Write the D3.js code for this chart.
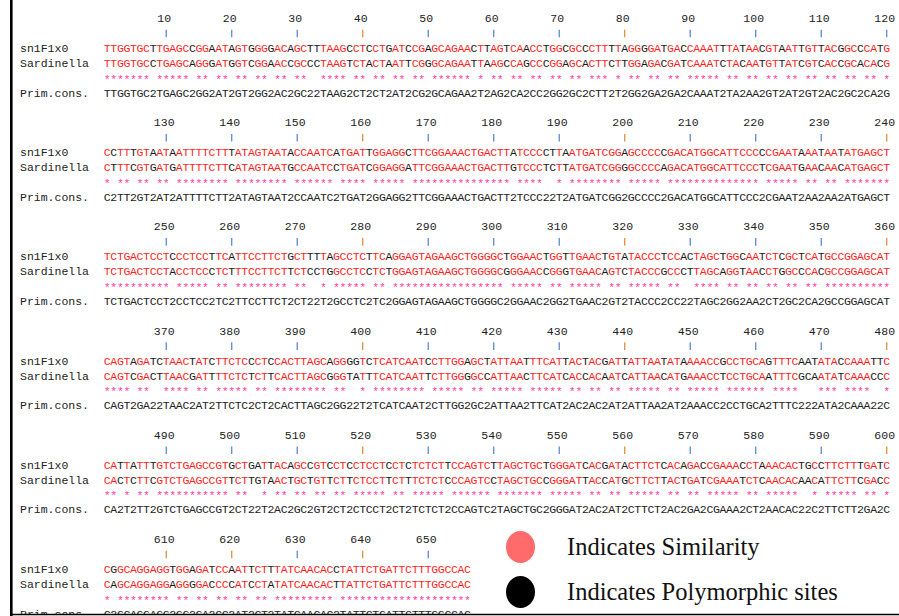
<!DOCTYPE html>
<html>
<head>
<meta charset="utf-8">
<script src="https://cdn.jsdelivr.net/npm/d3@7"></script>
<style>
  html, body { margin: 0; padding: 0; background: #fff; }
  svg { display: block; }
</style>
</head>
<body>
<div id="chart"></div>
<script>
// Pairwise alignment: sn1F1x0 vs Sardinella, 120 columns per block
const seqNames = ['sn1F1x0', 'Sardinella'];
const consensusLabel = 'Prim.cons.';

const sn1Blocks = [
  'TTGGTGCTTGAGCCGGAATAGTGGGGACAGCTTTAAGCCTCCTGATCCGAGCAGAACTTAGTCAACCTGGCGCCCTTTTAGGGGATGACCAAATTTATAACGTAATTGTTACGGCCCATG',
  'CCTTTGTAATAATTTTCTTTATAGTAATACCAATCATGATTGGAGGCTTCGGAAACTGACTTATCCCCTTAATGATCGGAGCCCCCGACATGGCATTCCCCCGAATAAATAATATGAGCT',
  'TCTGACTCCTCCCTCCTTCATTCCTTCTGCTTTTAGCCTCTTCAGGAGTAGAAGCTGGGGCTGGAACTGGTTGAACTGTATACCCTCCACTAGCTGGCAATCTCGCTCATGCCGGAGCAT',
  'CAGTAGATCTAACTATCTTCTCCCTCCACTTAGCAGGGGTCTCATCAATCCTTGGAGCTATTAATTTCATTACTACGATTATTAATATAAAACCGCCTGCAGTTTCAATATACCAAATTC',
  'CATTATTTGTCTGAGCCGTGCTGATTACAGCCGTCCTCCTCCTCCTCTCTCTTCCAGTCTTAGCTGCTGGGATCACGATACTTCTCACAGACCGAAACCTAAACACTGCCTTCTTTGATC',
  'CGGCAGGAGGTGGAGATCCAATTCTTTATCAACACCTATTCTGATTCTTTGGCCAC'
];

const sardBlocks = [
  'TTGGTGCCTGAGCAGGGATGGTCGGAACCGCCCTAAGTCTACTAATTCGGGCAGAATTAAGCCAGCCCGGAGCACTTCTTGGAGACGATCAAATCTACAATGTTATCGTCACCGCACACG',
  'CTTTCGTGATGATTTTCTTCATAGTAATGCCAATCCTGATCGGAGGATTCGGAAACTGACTTGTCCCTCTTATGATCGGGGCCCCAGACATGGCATTCCCTCGAATGAACAACATGAGCT',
  'TCTGACTCCTACCTCCCTCTTTCCTTCTTCTCCTGGCCTCCTCTGGAGTAGAAGCTGGGGCGGGAACCGGGTGAACAGTCTACCCGCCCTTAGCAGGTAACCTGGCCCACGCCGGAGCAT',
  'CAGTCGACTTAACGATTTTCTCTCTTCACTTAGCGGGTATTTCATCAATTCTTGGGGCCATTAACTTCATCACCACAATCATTAACATGAAACCTCCTGCAATTTCGCAATATCAAACCC',
  'CACTCTTCGTCTGAGCCGTTCTTGTAACTGCTGTTCTTCTCCTTCTTTCTCTCCCAGTCCTAGCTGCCGGGATTACCATGCTTCTTACTGATCGAAATCTCAACACAACATTCTTCGACC',
  'CAGCAGGAGGAGGGGACCCCATCCTATATCAACACTTATTCTGATTCTTTGGCCAC'
];

const blockSize = 120;
const tickStep = 10;
// ticks drawn in orange instead of blue
const orangeTicks = [40, 80, 160, 200, 240, 280, 320, 360, 400, 440, 480, 520, 560, 600, 610, 620, 640];

const legendLabels = ['Indicates Similarity', 'Indicates Polymorphic sites'];

/* Layout */
const width = 899;
const height = 616;
const layout = {
  seqLeft: 104,
  seqRight: 890,
  labelX: 20,
  blockTop: 18,
  blockPitch: 104.2,
  row: { number: 0, tickTop: 11.7, tickBottom: 19.3, seq1: 30, seq2: 45, stars: 58, cons: 74.5 }
};

const colors = {
  match: '#ff1f1f',
  mismatch: '#1a1a1a',
  star: '#ff3aa0',
  text: '#222',
  tickBlue: '#4f7fd0',
  tickOrange: '#e0862a'
};

const monoFont = '"Liberation Mono", "Courier New", monospace';
const fontSize = 11.5;

const svg = d3.select('#chart')
  .append('svg')
  .attr('width', width)
  .attr('height', height);

svg.append('defs')
  .append('clipPath')
  .attr('id', 'plot-clip')
  .append('rect')
  .attr('x', 0).attr('y', 0)
  .attr('width', width).attr('height', 614);

const x = d3.scaleBand()
  .domain(d3.range(blockSize))
  .range([layout.seqLeft, layout.seqRight])
  .paddingInner(0);
const cx = (i) => x(i) + x.bandwidth() / 2;

const blockY = d3.scaleLinear()
  .domain([0, 1])
  .range([layout.blockTop, layout.blockTop + layout.blockPitch]);

const content = svg.append('g').attr('clip-path', 'url(#plot-clip)');

sn1Blocks.forEach((s1, b) => {
  const s2 = sardBlocks[b];
  const g = content.append('g')
    .attr('class', 'block')
    .attr('transform', `translate(0, ${blockY(b)})`);

  const cols = d3.range(s1.length).map((i) => ({
    i,
    pos: b * blockSize + i + 1,
    a: s1[i],
    c: s2[i],
    same: s1[i] === s2[i]
  }));

  /* ruler numbers + tick marks */
  const ticks = cols.filter((d) => d.pos % tickStep === 0);

  g.selectAll('text.num')
    .data(ticks)
    .join('text')
    .attr('class', 'num')
    .attr('x', (d) => cx(d.i) - 2)
    .attr('y', layout.row.number)
    .attr('dy', '0.35em')
    .attr('text-anchor', 'middle')
    .attr('font-family', monoFont)
    .attr('font-size', fontSize)
    .attr('fill', colors.text)
    .text((d) => d.pos);

  g.selectAll('line.tick')
    .data(ticks)
    .join('line')
    .attr('class', 'tick')
    .attr('x1', (d) => cx(d.i))
    .attr('x2', (d) => cx(d.i))
    .attr('y1', layout.row.tickTop)
    .attr('y2', layout.row.tickBottom)
    .attr('stroke', (d) => (orangeTicks.includes(d.pos) ? colors.tickOrange : colors.tickBlue))
    .attr('stroke-width', 1.2);

  /* row labels */
  [[seqNames[0], layout.row.seq1], [seqNames[1], layout.row.seq2], [consensusLabel, layout.row.cons]]
    .forEach(([label, y]) => {
      g.append('text')
        .attr('x', layout.labelX)
        .attr('y', y)
        .attr('dy', '0.35em')
        .attr('font-family', monoFont)
        .attr('font-size', fontSize)
        .attr('fill', colors.text)
        .text(label);
    });

  /* sequences: red where both agree, black at polymorphic sites */
  [['a', layout.row.seq1], ['c', layout.row.seq2]].forEach(([key, y]) => {
    g.selectAll(`text.base-${key}`)
      .data(cols)
      .join('text')
      .attr('class', `base-${key}`)
      .attr('x', (d) => cx(d.i))
      .attr('y', y)
      .attr('dy', '0.35em')
      .attr('text-anchor', 'middle')
      .attr('font-family', monoFont)
      .attr('font-size', fontSize)
      .attr('fill', (d) => (d.same ? colors.match : colors.mismatch))
      .text((d) => d[key]);
  });

  /* identity stars */
  g.selectAll('text.star')
    .data(cols.filter((d) => d.same))
    .join('text')
    .attr('class', 'star')
    .attr('x', (d) => cx(d.i))
    .attr('y', layout.row.stars + 6.5)
    .attr('text-anchor', 'middle')
    .attr('font-family', monoFont)
    .attr('font-size', fontSize)
    .attr('fill', colors.star)
    .text('*');

  /* consensus: shared base or '2' */
  g.selectAll('text.cons')
    .data(cols)
    .join('text')
    .attr('class', 'cons')
    .attr('x', (d) => cx(d.i))
    .attr('y', layout.row.cons)
    .attr('dy', '0.35em')
    .attr('text-anchor', 'middle')
    .attr('font-family', monoFont)
    .attr('font-size', fontSize)
    .attr('fill', colors.text)
    .text((d) => (d.same ? d.a : '2'));
});

/* Legend */
const legend = svg.append('g').attr('transform', 'translate(520.5, 547)');
const legendColors = ['#ff6b6b', '#000000'];

legend.selectAll('g.legend-item')
  .data(legendLabels)
  .join('g')
  .attr('class', 'legend-item')
  .attr('transform', (_, k) => `translate(0, ${k * 45})`)
  .each(function (label, k) {
    const item = d3.select(this);
    item.append('ellipse')
      .attr('rx', 14.5)
      .attr('ry', 16)
      .attr('fill', legendColors[k]);
    item.append('text')
      .attr('x', 46.5)
      .attr('y', 7.5)
      .attr('font-family', '"Liberation Serif", "Times New Roman", serif')
      .attr('font-size', 24.5)
      .attr('fill', '#111')
      .text(label);
  });

/* Frame: thick left rule, bottom rule */
svg.append('rect')
  .attr('x', 10).attr('y', 0)
  .attr('width', 2.6).attr('height', height)
  .attr('fill', '#000');

svg.append('line')
  .attr('x1', 10).attr('x2', width)
  .attr('y1', 614.5).attr('y2', 614.5)
  .attr('stroke', '#000')
  .attr('stroke-width', 1.5);
</script>
</body>
</html>
